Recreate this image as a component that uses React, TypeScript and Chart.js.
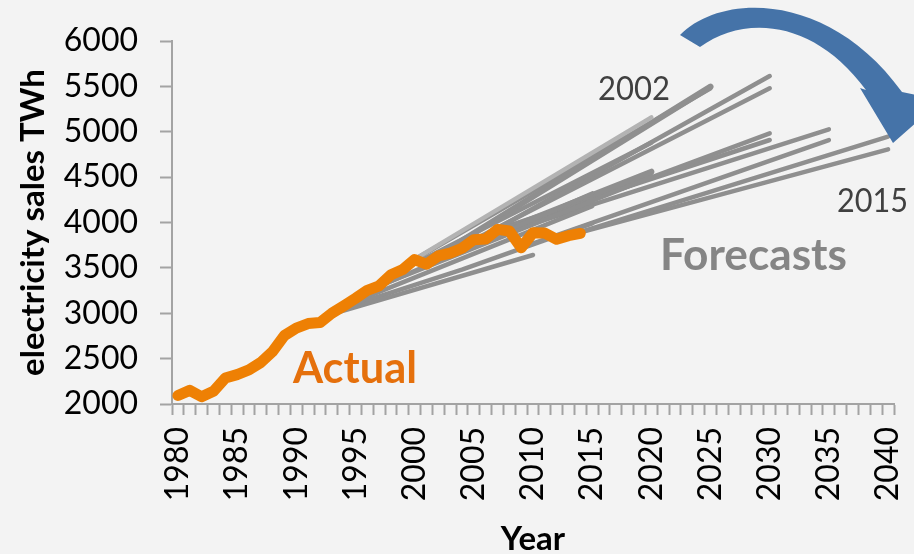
import React, { useEffect, useRef } from 'react';
import { Chart, registerables } from 'chart.js';

Chart.register(...registerables);

// ---- Data ----
const firstYear = 1980;
const lastYear = 2040;
const yearLabels: string[] = [];
for (let y = firstYear; y <= lastYear; y++) yearLabels.push(String(y));

const actualYears = [
  1980, 1981, 1982, 1983, 1984, 1985, 1986, 1987, 1988, 1989,
  1990, 1991, 1992, 1993, 1994, 1995, 1996, 1997, 1998, 1999,
  2000, 2001, 2002, 2003, 2004, 2005, 2006, 2007, 2008, 2009,
  2010, 2011, 2012, 2013, 2014,
];
const actualSales = [
  2094, 2150, 2080, 2140, 2286, 2324, 2375, 2457, 2578, 2755,
  2837, 2886, 2897, 3000, 3080, 3164, 3253, 3302, 3425, 3483,
  3592, 3540, 3632, 3662, 3716, 3811, 3817, 3924, 3906, 3722,
  3887, 3883, 3815, 3855, 3880,
];

// Forecasts: [year, TWh] points
const forecastA = [[1993, 2990], [2010, 3642]];
const forecastB = [[1994, 3060], [2004, 3480], [2015, 3990]];
const forecastP = [[1995, 3130], [2015, 4180]];
const forecastQ = [[1996, 3240], [2015, 4320]];
const forecastR = [[1997, 3300], [2020, 4500]];
const forecastC = [[1998, 3440], [2020, 5159]];
const forecastS = [[1999, 3480], [2020, 4880]];
const forecastD = [[2001, 3560], [2025, 5497]];
const forecastE = [[2000, 3592], [2025, 5480]];
const forecastF = [[2004, 3716], [2030, 5614]];
const forecastG = [[2005, 3811], [2030, 5479]];
const forecastH = [[2002, 3632], [2020, 4560]];
const forecastI = [[2003, 3662], [2020, 4545]];
const forecastJ = [[2006, 3817], [2030, 4983]];
const forecastK = [[2007, 3924], [2030, 4909]];
const forecastL = [[2008, 3906], [2035, 5027]];
const forecastM = [[2009, 3722], [2035, 4909]];
const forecastN = [[2012, 3815], [2040, 4946]];
const forecastO = [[2013, 3855], [2040, 4806]];

const forecastSeries = [
  { pts: forecastA, light: false, thick: false },
  { pts: forecastB, light: false, thick: false },
  { pts: forecastP, light: false, thick: false },
  { pts: forecastQ, light: false, thick: false },
  { pts: forecastR, light: false, thick: false },
  { pts: forecastC, light: true, thick: false },
  { pts: forecastS, light: false, thick: false },
  { pts: forecastD, light: false, thick: true },
  { pts: forecastE, light: false, thick: false },
  { pts: forecastF, light: false, thick: false },
  { pts: forecastG, light: false, thick: false },
  { pts: forecastH, light: false, thick: true },
  { pts: forecastI, light: false, thick: false },
  { pts: forecastJ, light: false, thick: false },
  { pts: forecastK, light: false, thick: false },
  { pts: forecastL, light: false, thick: false },
  { pts: forecastM, light: false, thick: false },
  { pts: forecastN, light: false, thick: false },
  { pts: forecastO, light: false, thick: false },
];

const yMin = 2000;
const yMax = 6000;
const yStep = 500;

// ---- Styles ----
const W = 914;
const H = 554;
const FONT = 'Lato';
const axisColor = '#a3a3a3';
const orange = '#ee8004';
const grayLine = '#8f8f8f';
const lightLine = '#b3b3b3';

function fitText(
  ctx: CanvasRenderingContext2D,
  text: string,
  x: number,
  baseline: number,
  capHeight: number,
  targetWidth: number,
  weight: string,
  color: string
) {
  const size = capHeight / 0.7165;
  ctx.save();
  ctx.font = `${weight} ${size}px ${FONT}`;
  ctx.fillStyle = color;
  ctx.textBaseline = 'alphabetic';
  ctx.textAlign = 'left';
  const w = ctx.measureText(text).width;
  let sx = targetWidth / w;
  sx = Math.max(0.8, Math.min(1.2, sx));
  ctx.translate(x, baseline);
  ctx.scale(sx, 1);
  ctx.fillText(text, 0, 0);
  ctx.restore();
}

const decorPlugin = {
  id: 'decor',
  beforeDraw(chart: any) {
    const ctx = chart.ctx as CanvasRenderingContext2D;
    ctx.save();
    ctx.fillStyle = '#f3f3f3';
    ctx.fillRect(0, 0, chart.width, chart.height);
    ctx.restore();
  },
  afterDraw(chart: any) {
    const ctx = chart.ctx as CanvasRenderingContext2D;
    // curved arrow
    ctx.save();
    ctx.fillStyle = '#4573a8';
    ctx.beginPath();
    ctx.moveTo(680, 35);
    ctx.bezierCurveTo(722, -8, 830, -8, 902, 92);
    ctx.lineTo(942, 100);
    ctx.lineTo(893, 143);
    ctx.lineTo(860, 88);
    ctx.lineTo(866, 90);
    ctx.bezierCurveTo(815, 20, 745, 14, 700, 47);
    ctx.closePath();
    ctx.fill();
    ctx.restore();

    fitText(ctx, '2002', 598, 100, 23, 72, 'normal', '#404040');
    fitText(ctx, '2015', 837, 212, 23, 71, 'normal', '#404040');
    fitText(ctx, 'Forecasts', 660, 270, 31, 187, 'bold', '#858585');
    fitText(ctx, 'Actual', 293, 383, 31, 124, 'bold', '#e5700c');
  },
};

export default function App() {
  const ref = useRef<HTMLCanvasElement | null>(null);

  useEffect(() => {
    if (!ref.current) return;
    const forecastDatasets = forecastSeries.map((f, i) => ({
      label: `Forecast ${i + 1}`,
      data: f.pts.map(([yr, v]) => ({ x: String(yr), y: v })),
      borderColor: f.light ? lightLine : grayLine,
      borderWidth: f.thick ? 6 : 4.5,
      pointRadius: 0,
      tension: 0,
      borderCapStyle: 'round' as const,
      borderJoinStyle: 'round' as const,
      order: 1,
    }));
    const chart = new Chart(ref.current, {
      type: 'line',
      data: {
        labels: yearLabels,
        datasets: [
          {
            label: 'Actual',
            data: actualYears.map((yr, i) => ({ x: String(yr), y: actualSales[i] })),
            borderColor: orange,
            borderWidth: 11,
            pointRadius: 0,
            tension: 0,
            borderCapStyle: 'round',
            borderJoinStyle: 'round',
            order: 0,
          },
          ...forecastDatasets,
        ],
      },
      options: {
        responsive: false,
        animation: false,
        events: [],
        layout: { padding: { top: 41, right: 20, left: 0, bottom: 0 } },
        plugins: {
          legend: { display: false },
          tooltip: { enabled: false },
          title: { display: false },
        },
        scales: {
          x: {
            type: 'category',
            offset: true,
            grid: {
              offset: true,
              drawOnChartArea: false,
              drawTicks: true,
              tickLength: 11,
              tickColor: axisColor,
              tickWidth: 2,
            },
            border: { display: true, color: axisColor, width: 2 },
            ticks: {
              autoSkip: false,
              maxRotation: 90,
              minRotation: 90,
              padding: 12,
              color: '#000',
              font: { family: FONT, size: 32 },
              callback: function (this: any, value: any) {
                const l = this.getLabelForValue(value);
                return Number(l) % 5 === 0 ? l : '';
              },
            },
            title: {
              display: true,
              text: 'Year',
              color: '#000',
              font: { family: FONT, size: 33, weight: 'bold', lineHeight: 1 },
              padding: { top: 0, bottom: -2 },
            },
            afterFit: (s: any) => {
              s.height = 150;
              s.paddingLeft = 0;
              s.paddingRight = 0;
            },
          },
          y: {
            min: yMin,
            max: yMax,
            ticks: {
              stepSize: yStep,
              padding: 22,
              color: '#000',
              font: { family: FONT, size: 32 },
              callback: (v: any) => String(v),
            },
            grid: {
              drawOnChartArea: false,
              drawTicks: true,
              tickLength: 12,
              tickColor: axisColor,
              tickWidth: 2,
            },
            border: { display: true, color: axisColor, width: 2 },
            title: {
              display: true,
              text: 'electricity sales TWh',
              color: '#000',
              font: { family: FONT, size: 33, weight: 'bold', lineHeight: 1 },
              padding: { top: 17, bottom: 0 },
            },
            afterFit: (s: any) => {
              s.width = 172;
              s.paddingTop = 0;
              s.paddingBottom = 0;
            },
          },
        },
      } as any,
      plugins: [decorPlugin],
    });
    return () => chart.destroy();
  }, []);

  return (
    <div style={{ position: 'fixed', left: 0, top: 0, width: W, height: H, background: '#f3f3f3' }}>
      <canvas ref={ref} width={W} height={H} style={{ display: 'block', width: W, height: H }} />
    </div>
  );
}
